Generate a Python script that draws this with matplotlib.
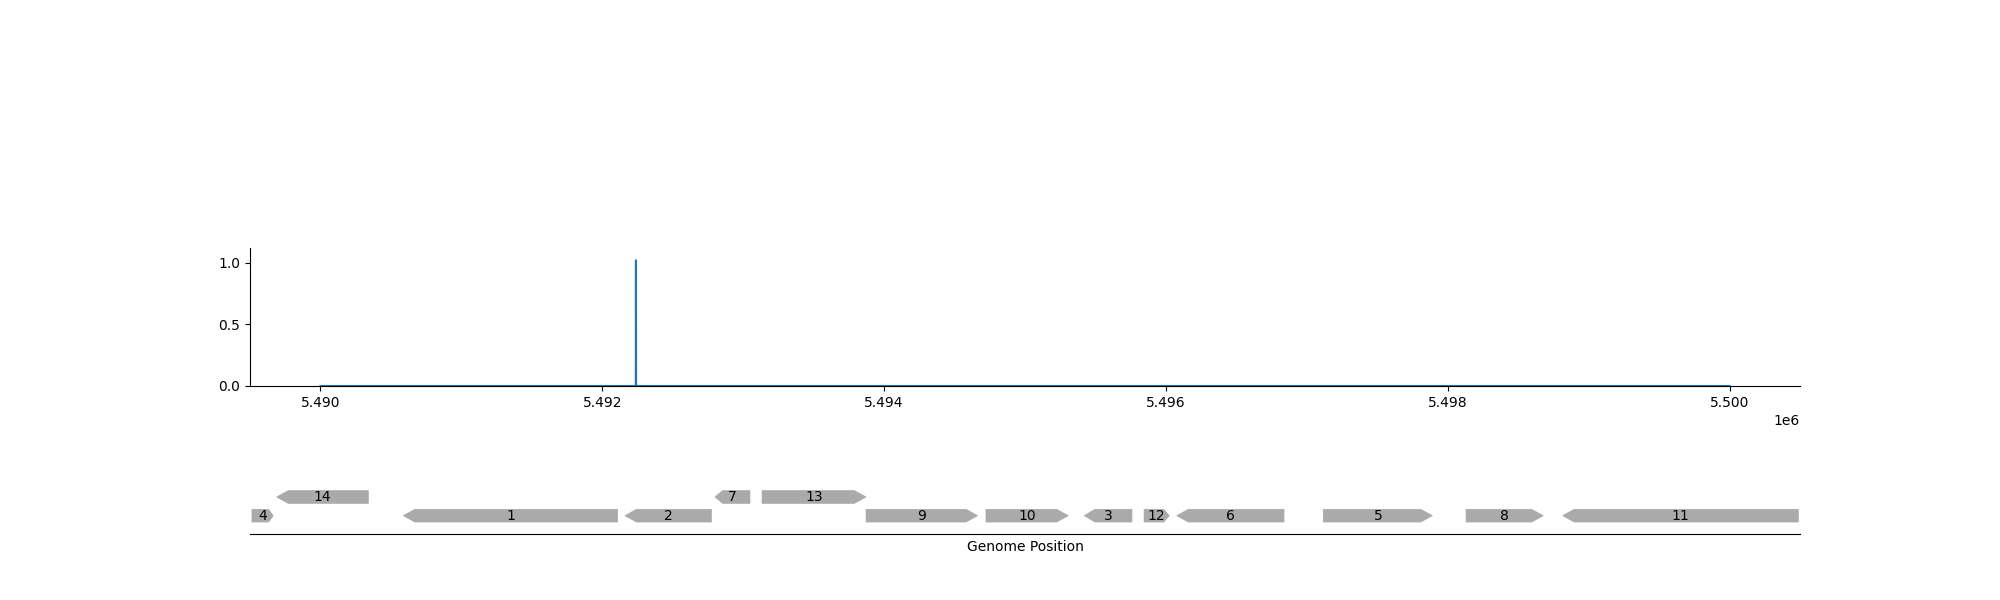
import numpy as np
import matplotlib
matplotlib.use('Agg')
import matplotlib.pyplot as plt
from matplotlib.patches import Polygon

# coverage track
cov_pos = [5490000, 5492238, 5492239, 5492240, 5500000]
cov_val = [0, 0, 1.02, 0, 0]

# gene features: label, start, end, strand, level
feat_label = ['4', '14', '1', '2', '7', '13', '9', '10', '3', '12', '6', '5', '8', '11']
feat_start = [5489514, 5489689, 5490588, 5492161, 5492800, 5493134, 5493872,
              5494723, 5495421, 5495845, 5496077, 5497117, 5498130, 5498816]
feat_end = [5489665, 5490340, 5492109, 5492774, 5493048, 5493872, 5494664,
            5495307, 5495759, 5496024, 5496838, 5497891, 5498678, 5500488]
feat_strand = [1, -1, -1, -1, -1, 1, 1, 1, -1, 1, -1, 1, 1, -1]
feat_level = [0, 1, 0, 0, 1, 1, 0, 0, 0, 0, 0, 0, 0, 0]


def feature_shape(start, end, strand, level, h=0.68, head=82):
    hl = min(head, 0.22 * (end - start))
    y0, y1, yc = level - h / 2, level + h / 2, level
    if strand > 0:
        return [(start, y0), (end - hl, y0), (end, yc), (end - hl, y1), (start, y1)]
    return [(end, y0), (start + hl, y0), (start, yc), (start + hl, y1), (end, y1)]


fig = plt.figure(figsize=(20, 6), dpi=100)
ax1 = fig.add_axes([0.125, 0.3567, 0.775, 0.23])
ax2 = fig.add_axes([0.125, 0.11, 0.775, 0.15], sharex=ax1)
ax2.patch.set_visible(False)

ax1.plot(cov_pos, cov_val, color='#1f77b4', lw=1.5)
ax1.set_ylim(0, 1.12)
ax1.set_yticks([0.0, 0.5, 1.0])
ax1.spines['top'].set_visible(False)
ax1.spines['right'].set_visible(False)
ax1.set_xlim(5489500, 5500500)

for lab, s, e, st, lv in zip(feat_label, feat_start, feat_end, feat_strand, feat_level):
    ax2.add_patch(Polygon(feature_shape(s, e, st, lv), closed=True,
                          facecolor='#aaaaaa', edgecolor='#aaaaaa', lw=0.5))
    ax2.text((s + e) / 2, lv, lab, ha='center', va='center', fontsize=10)

# 18.7 px per level, 90 px tall axes
ax2.set_ylim(-0.98, -0.98 + 90 / 18.7)
for sp in ['top', 'right', 'left']:
    ax2.spines[sp].set_visible(False)
ax2.set_yticks([])
ax2.tick_params(axis='x', which='both', length=0, labelbottom=False)
ax2.set_xlabel('Genome Position')

fig.savefig('out.png', dpi=100)
